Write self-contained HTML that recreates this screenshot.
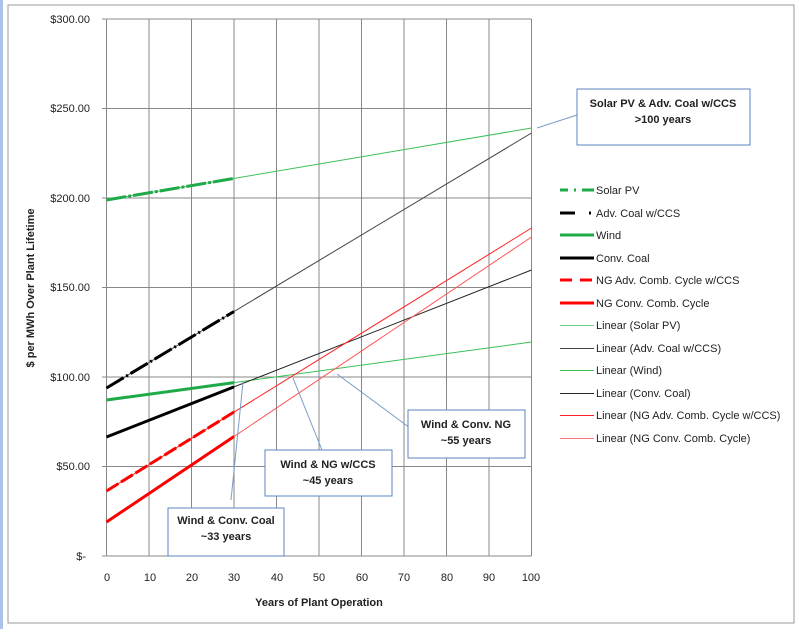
<!DOCTYPE html>
<html><head><style>
body{margin:0;background:#fff;width:799px;height:629px;overflow:hidden;font-family:"Liberation Sans",Arial,sans-serif}
</style></head><body>
<svg width="799" height="629" xmlns="http://www.w3.org/2000/svg" font-family="Liberation Sans, Arial, sans-serif">
<rect x="0" y="0" width="3" height="629" fill="#a9c4e8"/>
<rect x="8" y="5" width="786" height="618" fill="#fff" stroke="#999" stroke-width="1"/>
<g stroke="#888" stroke-width="1">
<line x1="106.5" y1="19" x2="531.5" y2="19"/>
<line x1="106.5" y1="108.5" x2="531.5" y2="108.5"/>
<line x1="106.5" y1="198" x2="531.5" y2="198"/>
<line x1="106.5" y1="287.5" x2="531.5" y2="287.5"/>
<line x1="106.5" y1="377" x2="531.5" y2="377"/>
<line x1="106.5" y1="466.5" x2="531.5" y2="466.5"/>
<line x1="149" y1="19" x2="149" y2="556"/><line x1="191.5" y1="19" x2="191.5" y2="556"/>
<line x1="234" y1="19" x2="234" y2="556"/><line x1="276.5" y1="19" x2="276.5" y2="556"/>
<line x1="319" y1="19" x2="319" y2="556"/><line x1="361.5" y1="19" x2="361.5" y2="556"/>
<line x1="404" y1="19" x2="404" y2="556"/><line x1="446.5" y1="19" x2="446.5" y2="556"/>
<line x1="489" y1="19" x2="489" y2="556"/><line x1="531.5" y1="19" x2="531.5" y2="556"/>
<line x1="106.5" y1="19" x2="106.5" y2="556"/><line x1="106.5" y1="556" x2="531.5" y2="556"/>
<line x1="102" y1="19" x2="106" y2="19"/><line x1="102" y1="108.5" x2="106" y2="108.5"/><line x1="102" y1="198" x2="106" y2="198"/><line x1="102" y1="287.5" x2="106" y2="287.5"/><line x1="102" y1="377" x2="106" y2="377"/><line x1="102" y1="466.5" x2="106" y2="466.5"/><line x1="102" y1="556" x2="106" y2="556"/>
</g>
<g font-size="11" fill="#222" text-anchor="end">
<text x="90" y="23">$300.00</text><text x="90" y="112">$250.00</text><text x="90" y="202">$200.00</text><text x="90" y="291">$150.00</text><text x="90" y="381">$100.00</text><text x="90" y="470">$50.00</text><text x="86" y="560">$-</text>
</g>
<g font-size="11" fill="#222" text-anchor="middle">
<text x="107" y="581">0</text><text x="150" y="581">10</text><text x="192" y="581">20</text><text x="234" y="581">30</text><text x="277" y="581">40</text><text x="319" y="581">50</text><text x="362" y="581">60</text><text x="404" y="581">70</text><text x="447" y="581">80</text><text x="489" y="581">90</text><text x="531" y="581">100</text>
</g>
<text x="319" y="606" font-size="11" font-weight="bold" text-anchor="middle" fill="#222">Years of Plant Operation</text>
<text transform="translate(34,288) rotate(-90)" font-size="11" font-weight="bold" text-anchor="middle" fill="#222">$ per MWh Over Plant  Lifetime</text>
<g stroke-width="1">
<line x1="106.5" y1="200" x2="531.5" y2="128" stroke="#3cbf5a"/>
<line x1="106.5" y1="388" x2="531.5" y2="133" stroke="#444"/>
<line x1="106.5" y1="400" x2="531.5" y2="342" stroke="#3cbf5a"/>
<line x1="106.5" y1="437" x2="531.5" y2="270" stroke="#222"/>
<line x1="106.5" y1="491" x2="531.5" y2="228" stroke="#f22"/>
<line x1="106.5" y1="522" x2="531.5" y2="237" stroke="#f55"/>
</g>
<g stroke-width="3">
<line x1="106.5" y1="200" x2="234" y2="178.4" stroke="#1faa4a" stroke-dasharray="20,2,3,2"/>
<line x1="106.5" y1="388" x2="234" y2="311.5" stroke="#000" stroke-dasharray="20,3,2,3"/>
<line x1="106.5" y1="400" x2="234" y2="382.6" stroke="#1faa4a"/>
<line x1="106.5" y1="437" x2="234" y2="386.9" stroke="#000"/>
<line x1="106.5" y1="491" x2="234" y2="412" stroke="#f00" stroke-dasharray="14,3"/>
<line x1="106.5" y1="522" x2="234" y2="436.5" stroke="#f00"/>
</g>
<g stroke="#7a9cc8" stroke-width="1">
<line x1="577" y1="115" x2="537" y2="128"/>
<line x1="410" y1="428" x2="337" y2="374"/>
<line x1="322" y1="450" x2="293" y2="378"/>
<line x1="231" y1="500" x2="243" y2="382"/>
</g>
<g fill="#fff" stroke="#5b86c0" stroke-width="1">
<rect x="577" y="89" width="173" height="56"/>
<rect x="408" y="410" width="117" height="48"/>
<rect x="265" y="450" width="127" height="46"/>
<rect x="168" y="508" width="116" height="48"/>
</g>
<g font-size="11" font-weight="bold" fill="#222" text-anchor="middle">
<text x="663" y="107">Solar PV &amp; Adv. Coal w/CCS</text><text x="663" y="123">&gt;100 years</text>
<text x="466" y="428">Wind &amp; Conv. NG</text><text x="466" y="444">~55 years</text>
<text x="328" y="468">Wind &amp;  NG w/CCS</text><text x="328" y="484">~45 years</text>
<text x="226" y="524">Wind &amp; Conv. Coal</text><text x="226" y="540">~33 years</text>
</g>
<g stroke-width="3">
<line x1="560" y1="190" x2="568" y2="190" stroke="#1faa4a"/><line x1="574" y1="190" x2="576" y2="190" stroke="#1faa4a"/><line x1="582" y1="190" x2="594" y2="190" stroke="#1faa4a"/>
<line x1="560" y1="213" x2="575" y2="213" stroke="#000"/><line x1="589" y1="213" x2="591" y2="213" stroke="#000"/>
<line x1="560" y1="235" x2="594" y2="235" stroke="#1faa4a"/>
<line x1="560" y1="258" x2="594" y2="258" stroke="#000"/>
<line x1="560" y1="280" x2="572" y2="280" stroke="#f00"/><line x1="580" y1="280" x2="592" y2="280" stroke="#f00"/>
<line x1="560" y1="303" x2="594" y2="303" stroke="#f00"/>
</g>
<g stroke-width="1">
<line x1="560" y1="325.5" x2="594" y2="325.5" stroke="#6cd08a"/>
<line x1="560" y1="348.5" x2="594" y2="348.5" stroke="#444"/>
<line x1="560" y1="370.5" x2="594" y2="370.5" stroke="#3cbf5a"/>
<line x1="560" y1="393.5" x2="594" y2="393.5" stroke="#222"/>
<line x1="560" y1="415.5" x2="594" y2="415.5" stroke="#f22"/>
<line x1="560" y1="438.5" x2="594" y2="438.5" stroke="#f77"/>
</g>
<g font-size="11" fill="#222">
<text x="596" y="194">Solar PV</text><text x="596" y="217">Adv. Coal w/CCS</text><text x="596" y="239">Wind</text><text x="596" y="262">Conv. Coal</text><text x="596" y="284">NG Adv. Comb. Cycle w/CCS</text><text x="596" y="307">NG Conv. Comb. Cycle</text>
<text x="596" y="329">Linear (Solar PV)</text><text x="596" y="352">Linear (Adv. Coal w/CCS)</text><text x="596" y="374">Linear (Wind)</text><text x="596" y="397">Linear (Conv. Coal)</text><text x="596" y="419">Linear (NG Adv. Comb. Cycle w/CCS)</text><text x="596" y="442">Linear (NG Conv. Comb. Cycle)</text>
</g>
</svg>
</body></html>
